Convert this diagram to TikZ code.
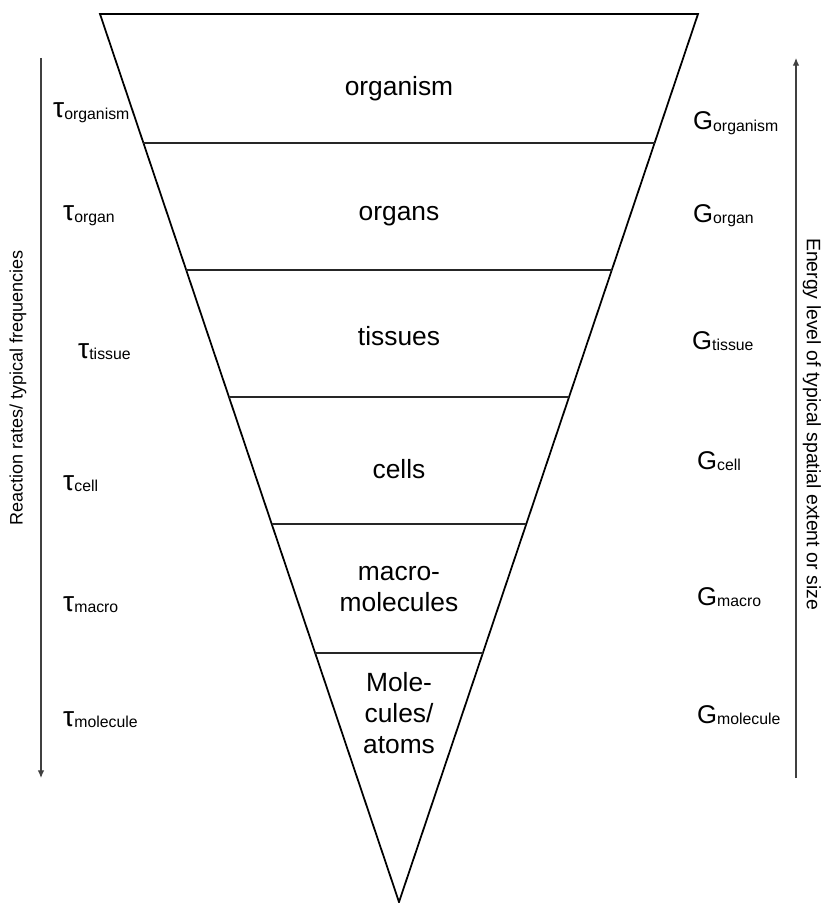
\documentclass[tikz,border=0pt]{standalone}
\usepackage{fontspec}
\setmainfont{Liberation Sans}
\usetikzlibrary{calc,arrows.meta}

\newcommand{\taulbl}[1]{{\fontsize{24}{28}\selectfont τ}\raisebox{-1.5pt}{\fontsize{13.5}{16}\selectfont #1}}
\newcommand{\glbl}[1]{{\fontsize{21.9}{26}\selectfont G}\raisebox{-1.5pt}{\fontsize{13.5}{16}\selectfont #1}}

\begin{document}
\begin{tikzpicture}[x=0.03cm, y=-0.03cm,
    level/.style = {font=\fontsize{22.5}{26.5}\selectfont, align=center},
    tau/.style = {anchor=base west, inner sep=0pt},
    gibbs/.style = {anchor=base west, inner sep=0pt},
    axis/.style = {draw=black!75, line width=0.9pt, -{Latex[length=6.5pt,width=5.5pt]}},
    side/.style = {font=\fontsize{15.4}{18}\selectfont}]
    \useasboundingbox (0,0) rectangle (821,903);

    % the funnel
    \coordinate (tl) at (100,14);
    \coordinate (tr) at (698,14);
    \coordinate (apex) at (399,902);
    \draw[line width=1.5pt, line join=miter] (tl) -- (tr) -- (apex) -- cycle;

    % level borders
    \foreach \t in {0.1453,0.2883,0.4313,0.5743,0.7196}
        \draw[black!85, line width=0.9pt] ($(tl)!\t!(apex)$) -- ($(tr)!\t!(apex)$);

    % level names
    \node[level, anchor=base] (organism) at (399,96) {organism};
    \node[level, anchor=base] (organs) at (399,221) {organs};
    \node[level, anchor=base] (tissues) at (399,345) {tissues};
    \node[level, anchor=base] (cells) at (399,478) {cells};
    \node[level] (macro) at (399,589) {macro-\\molecules};
    \node[level] (molec) at (399,713) {Mole-\\cules/\\atoms};

    % time scales
    \node[tau] (torganism) at (53,118) {\taulbl{organism}};
    \node[tau] (torgan) at (63,221) {\taulbl{organ}};
    \node[tau] (ttissue) at (78,358) {\taulbl{tissue}};
    \node[tau] (tcell) at (63,490) {\taulbl{cell}};
    \node[tau] (tmacro) at (63,611) {\taulbl{macro}};
    \node[tau] (tmolecule) at (63,726) {\taulbl{molecule}};

    % energies
    \node[gibbs] (gorganism) at (693,130) {\glbl{organism}};
    \node[gibbs] (gorgan) at (693,222) {\glbl{organ}};
    \node[gibbs] (gtissue) at (692,349) {\glbl{tissue}};
    \node[gibbs] (gcell) at (697,469) {\glbl{cell}};
    \node[gibbs] (gmacro) at (697,605) {\glbl{macro}};
    \node[gibbs] (gmolecule) at (697,723) {\glbl{molecule}};

    % axes
    \coordinate (ltop) at (41,58);
    \coordinate (lbot) at (41,778);
    \coordinate (rtop) at (796,58);
    \coordinate (rbot) at (796,778);
    \draw[axis] (ltop) -- (lbot);
    \draw[axis] (rbot) -- (rtop);
    \node[side, rotate=90] (rates) at (18,388) {Reaction rates/ typical frequencies};
    \node[side, rotate=-90, font=\fontsize{16.6}{19}\selectfont] (energy) at (812,424) {Energy level of typical spatial extent or size};
\end{tikzpicture}
\end{document}
